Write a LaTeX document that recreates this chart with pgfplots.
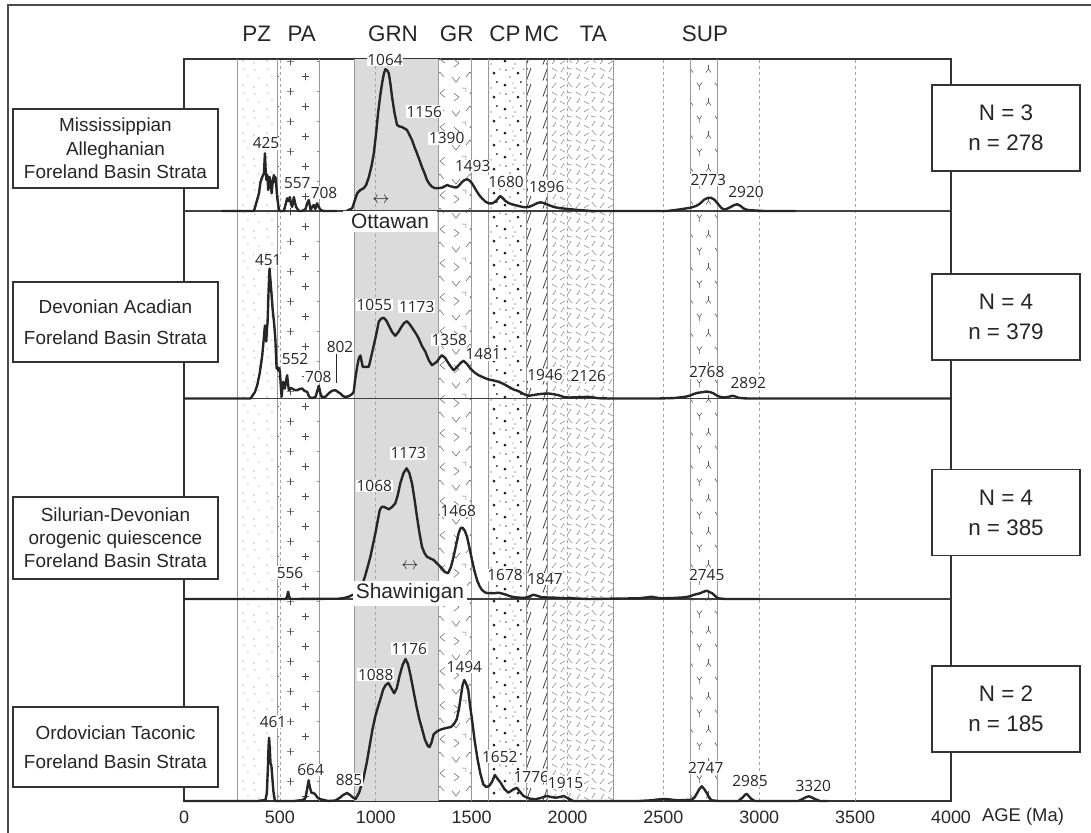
\documentclass[border=0pt]{standalone}
\usepackage{fontspec}
\setmainfont{Liberation Sans}
\newfontfamily\peakfont{Open Sans}
\usepackage{pgfplots}
\pgfplotsset{compat=1.18}
\usetikzlibrary{patterns}

\pgfdeclarepatternformonly{pzdots}{\pgfqpoint{0pt}{0pt}}{\pgfqpoint{24pt}{24pt}}{\pgfqpoint{24pt}{24pt}}{%
 \pgfpathcircle{\pgfqpoint{4pt}{5pt}}{0.6pt}
 \pgfpathcircle{\pgfqpoint{15pt}{3pt}}{0.6pt}
 \pgfpathcircle{\pgfqpoint{9pt}{14pt}}{0.6pt}
 \pgfpathcircle{\pgfqpoint{20pt}{12pt}}{0.6pt}
 \pgfpathcircle{\pgfqpoint{5pt}{21pt}}{0.6pt}
 \pgfpathcircle{\pgfqpoint{16pt}{20pt}}{0.6pt}
 \pgfusepath{fill}}
\pgfdeclarepatternformonly{plusses}{\pgfqpoint{0pt}{0pt}}{\pgfqpoint{30pt}{30pt}}{\pgfqpoint{30pt}{30pt}}{%
 \pgfsetlinewidth{0.7pt}
 \pgfpathmoveto{\pgfqpoint{4pt}{7.5pt}}\pgfpathlineto{\pgfqpoint{11pt}{7.5pt}}
 \pgfpathmoveto{\pgfqpoint{7.5pt}{4pt}}\pgfpathlineto{\pgfqpoint{7.5pt}{11pt}}
 \pgfpathmoveto{\pgfqpoint{19pt}{22.5pt}}\pgfpathlineto{\pgfqpoint{26pt}{22.5pt}}
 \pgfpathmoveto{\pgfqpoint{22.5pt}{19pt}}\pgfpathlineto{\pgfqpoint{22.5pt}{26pt}}
 \pgfusepath{stroke}}
\pgfdeclarepatternformonly{grchev}{\pgfqpoint{0pt}{0pt}}{\pgfqpoint{30pt}{34pt}}{\pgfqpoint{30pt}{34pt}}{%
 \pgfsetlinewidth{0.6pt}
 \pgfpathmoveto{\pgfqpoint{4pt}{9pt}}\pgfpathlineto{\pgfqpoint{8pt}{4pt}}\pgfpathlineto{\pgfqpoint{12pt}{9pt}}
 \pgfpathmoveto{\pgfqpoint{18pt}{9pt}}\pgfpathlineto{\pgfqpoint{22pt}{14pt}}\pgfpathlineto{\pgfqpoint{26pt}{9pt}}
 \pgfpathmoveto{\pgfqpoint{6pt}{27pt}}\pgfpathlineto{\pgfqpoint{11pt}{23pt}}\pgfpathlineto{\pgfqpoint{6pt}{19pt}}
 \pgfpathmoveto{\pgfqpoint{27pt}{31pt}}\pgfpathlineto{\pgfqpoint{22pt}{27pt}}\pgfpathlineto{\pgfqpoint{27pt}{23pt}}
 \pgfpathmoveto{\pgfqpoint{14pt}{32pt}}\pgfpathlineto{\pgfqpoint{18pt}{32pt}}\pgfpathlineto{\pgfqpoint{18pt}{28pt}}
 \pgfusepath{stroke}}
\pgfdeclarepatternformonly{cpdots}{\pgfqpoint{0pt}{0pt}}{\pgfqpoint{24pt}{24pt}}{\pgfqpoint{24pt}{24pt}}{%
 \pgfpathcircle{\pgfqpoint{3pt}{5pt}}{1.5pt}
 \pgfpathcircle{\pgfqpoint{13pt}{2pt}}{0.6pt}
 \pgfpathcircle{\pgfqpoint{19pt}{8pt}}{1.0pt}
 \pgfpathcircle{\pgfqpoint{8pt}{13pt}}{0.7pt}
 \pgfpathcircle{\pgfqpoint{16pt}{17pt}}{1.5pt}
 \pgfpathcircle{\pgfqpoint{4pt}{20pt}}{0.8pt}
 \pgfpathcircle{\pgfqpoint{22pt}{21pt}}{0.6pt}
 \pgfpathcircle{\pgfqpoint{11pt}{7pt}}{0.5pt}
 \pgfpathcircle{\pgfqpoint{11pt}{22pt}}{0.6pt}
 \pgfusepath{fill}}
\pgfdeclarepatternformonly{mcslash}{\pgfqpoint{0pt}{0pt}}{\pgfqpoint{20pt}{16pt}}{\pgfqpoint{20pt}{16pt}}{%
 \pgfsetlinewidth{0.8pt}
 \pgfpathmoveto{\pgfqpoint{5pt}{1.5pt}}\pgfpathlineto{\pgfqpoint{9.5pt}{14pt}}
 \pgfpathmoveto{\pgfqpoint{8.5pt}{1.5pt}}\pgfpathlineto{\pgfqpoint{13pt}{14pt}}
 \pgfusepath{stroke}}
\pgfdeclarepatternformonly{tadash}{\pgfqpoint{0pt}{0pt}}{\pgfqpoint{24pt}{24pt}}{\pgfqpoint{24pt}{24pt}}{%
 \pgfsetlinewidth{0.6pt}
 \pgfpathmoveto{\pgfqpoint{2pt}{2pt}}\pgfpathlineto{\pgfqpoint{6pt}{7pt}}
 \pgfpathmoveto{\pgfqpoint{10pt}{2pt}}\pgfpathlineto{\pgfqpoint{15pt}{5pt}}
 \pgfpathmoveto{\pgfqpoint{18pt}{8pt}}\pgfpathlineto{\pgfqpoint{22pt}{3pt}}
 \pgfpathmoveto{\pgfqpoint{3pt}{11pt}}\pgfpathlineto{\pgfqpoint{6pt}{16pt}}
 \pgfpathmoveto{\pgfqpoint{10pt}{13pt}}\pgfpathlineto{\pgfqpoint{15pt}{10pt}}
 \pgfpathmoveto{\pgfqpoint{18pt}{12pt}}\pgfpathlineto{\pgfqpoint{21pt}{17pt}}
 \pgfpathmoveto{\pgfqpoint{2pt}{22pt}}\pgfpathlineto{\pgfqpoint{7pt}{19pt}}
 \pgfpathmoveto{\pgfqpoint{11pt}{18pt}}\pgfpathlineto{\pgfqpoint{14pt}{23pt}}
 \pgfpathmoveto{\pgfqpoint{17pt}{22pt}}\pgfpathlineto{\pgfqpoint{22pt}{21pt}}
 \pgfusepath{stroke}}
\pgfdeclarepatternformonly{supy}{\pgfqpoint{0pt}{0pt}}{\pgfqpoint{17.7pt}{33pt}}{\pgfqpoint{17.7pt}{33pt}}{%
 \pgfsetlinewidth{0.6pt}
 \pgfpathmoveto{\pgfqpoint{3.5pt}{10pt}}\pgfpathlineto{\pgfqpoint{3.5pt}{6pt}}
 \pgfpathmoveto{\pgfqpoint{1pt}{2.5pt}}\pgfpathlineto{\pgfqpoint{3.5pt}{6pt}}\pgfpathlineto{\pgfqpoint{6pt}{2.5pt}}
 \pgfpathmoveto{\pgfqpoint{12.35pt}{18pt}}\pgfpathlineto{\pgfqpoint{12.35pt}{22pt}}
 \pgfpathmoveto{\pgfqpoint{9.85pt}{25.5pt}}\pgfpathlineto{\pgfqpoint{12.35pt}{22pt}}\pgfpathlineto{\pgfqpoint{14.85pt}{25.5pt}}
 \pgfusepath{stroke}}

\newcommand{\pk}[3]{\node[fill=white,inner sep=0.7bp,text=black!85,font=\peakfont\fontsize{15.5}{15.5}\selectfont] at (#1,#2) {#3};}

\begin{document}
\begin{tikzpicture}
\useasboundingbox (0,0) rectangle (1091bp,-833bp);
\begin{axis}[at={(184bp,-801bp)}, anchor=origin,
  width=767bp, height=742bp, scale only axis,
  xmin=0, xmax=4000, ymin=0, ymax=742,
  axis line style={draw=black!80, line width=1.2bp},
  xtick={0,500,1000,1500,2000,2500,3000,3500,4000},
  xticklabels={0,500,1000,1500,2000,2500,3000,3500,4000},
  ytick=\empty, major tick length=0pt,
  xticklabel style={font=\fontsize{18}{18}\selectfont, inner sep=0pt, anchor=north, yshift=-9.5bp, text=black!85},
  clip=false,
  curve/.style={black!85, line width=2.4bp, line join=round},
  base/.style={black!75, line width=1.2bp}]
% bands
\fill[black!14] (axis cs:889,0) rectangle (axis cs:1328,742);
\fill[pattern=pzdots, pattern color=black!55] (axis cs:276,0) rectangle (axis cs:486,742);
\fill[pattern=plusses, pattern color=black!70] (axis cs:486,0) rectangle (axis cs:707,742);
\fill[pattern=grchev, pattern color=black!55] (axis cs:1328,0) rectangle (axis cs:1497,742);
\fill[pattern=cpdots, pattern color=black!90] (axis cs:1585,0) rectangle (axis cs:1785,742);
\fill[pattern=mcslash, pattern color=black!75] (axis cs:1785,0) rectangle (axis cs:1893,742);
\fill[pattern=tadash, pattern color=black!45] (axis cs:1893,0) rectangle (axis cs:2240,742);
\fill[pattern=supy, pattern color=black!65] (axis cs:2640,0) rectangle (axis cs:2780,742);
% grid
\foreach \g in {500,1000,1500,2000,2500,3000,3500}{
  \edef\tmp{\noexpand\draw[black!35, line width=0.7bp, dash pattern=on 3bp off 3bp] (axis cs:\g,0) -- (axis cs:\g,742);}\tmp}
% band edges
\foreach \g in {276,486,707,889,1328,1497,1585,1785,1893,2240,2640,2780}{
  \edef\tmp{\noexpand\draw[black!40, line width=0.8bp] (axis cs:\g,0) -- (axis cs:\g,742);}\tmp}
% baselines
\addplot[base] coordinates {(0,590) (4000,590)};
\addplot[base] coordinates {(0,402.5) (4000,402.5)};
\addplot[base] coordinates {(0,202) (4000,202)};

% Panel 1
\addplot[curve] coordinates {(195,590) (365,590) (391,607.7) (399,619) (410,625) (417,627.7) (422,647.7) (426,630) (430,621) (435,626) (439,611) (446,624) (452,618) (457,607.7) (463,620) (469,626) (474,619) (477,624) (482,614) (486,604) (495,591) (503,590) (521,590) (538,602.7) (545,600) (552,604) (558,597) (564,594) (573,604) (579,598) (585,594) (599,590) (616,590) (634,592) (642,597.7) (651,601) (660,591) (668,594) (677,596) (685,592) (694,597.7) (703,594) (712,591) (729,590) (796,590)};
\addplot[curve] coordinates {(848,590) (877,592.7) (903,607.7) (920,611) (937,612.7) (950,616) (964,624) (978,635) (990,647.7) (1002,668) (1012,687.7) (1023,705) (1033,717.7) (1042,727) (1050,731.7) (1058,731) (1068,727.7) (1076,718) (1085,704) (1098,688) (1111,676) (1124,674.5) (1137,674) (1150,672.5) (1163,671) (1176,666) (1189,661) (1202,654) (1215,647.7) (1228,641) (1241,634) (1254,628) (1267,621) (1280,617) (1293,614.3) (1306,613) (1319,612.7) (1332,613) (1345,613.3) (1358,614.5) (1372,616) (1385,615) (1398,614.3) (1411,613.6) (1424,613.7) (1437,616) (1450,619) (1463,621) (1476,621.7) (1489,620.5) (1502,617.7) (1515,613.5) (1528,609.3) (1541,605.5) (1554,602.7) (1571,599.5) (1589,597.7) (1606,597.5) (1623,599.3) (1636,602) (1649,605) (1662,603) (1675,600.3) (1692,598) (1710,596.7) (1745,595) (1767,594) (1788,593.7) (1805,594.5) (1823,596) (1840,597.7) (1858,598.7) (1875,598) (1892,596.7) (1914,595) (1936,593.7) (1962,592.8) (1988,592.3) (2057,591) (2127,590) (2521,590) (2590,591.7) (2642,593.3) (2670,595) (2686,596.7) (2700,599) (2712,601.3) (2730,603) (2747,603.3) (2765,601.5) (2781,598) (2800,593.5) (2816,591.3) (2835,592.5) (2851,594) (2870,596) (2885,596.7) (2903,595) (2920,592.3) (2940,591) (2963,590.7) (3024,590) (3190,590)};

% Panel 2
\addplot[curve] coordinates {(0,402.5) (347,402.5) (370,409) (382,415.8) (395,428) (408,445.5) (415,460) (422,475.5) (425,465) (429,459.5) (432,470) (436,479.5) (441,510) (446,532.5) (452,518) (457,505.5) (463,490) (469,479.5) (474,468) (477,459.5) (480,445) (483,432.5) (487,434) (491,430.5) (496,433) (500,429.5) (505,415) (509,404.2) (513,412) (517,419.2) (521,414) (526,412.5) (532,420) (538,425.8) (542,418) (547,410.8) (555,413) (564,412.5) (577,411) (590,410.8) (603,412) (616,412.5) (629,410) (642,409.2) (651,405) (660,403.2) (673,403) (686,404.2) (695,410) (703,415.2) (710,409) (717,404.2) (738,404.2) (751,407) (764,409.2) (777,410.5) (790,410.8) (803,409) (816,407.5) (828,405) (839,404.2) (856,404.5) (868,405.8) (877,407) (885,409.2) (893,422) (903,434.2) (912,443) (920,445.5) (926,440) (932,434.2) (948,434.2) (964,434.2) (977,445) (990,455.8) (1003,467) (1016,479.5) (1029,482.5) (1042,483.2) (1055,480.5) (1068,475.5) (1085,469) (1102,465.2) (1118,469) (1134,474.2) (1148,478) (1163,479.8) (1180,476) (1198,470.8) (1211,467) (1224,462.5) (1241,455) (1259,449.2) (1276,441) (1293,435.8) (1306,437.5) (1319,439.2) (1332,443) (1345,445.8) (1362,443) (1380,437.5) (1393,434) (1406,430.8) (1419,433) (1432,435.8) (1445,438.5) (1458,440.2) (1476,437) (1493,432.5) (1515,428.5) (1536,425.8) (1562,423.5) (1589,421.5) (1615,420.5) (1641,419.2) (1667,417) (1693,414.2) (1719,411.5) (1745,409.8) (1771,407) (1797,405.2) (1823,406) (1849,406.8) (1875,407.3) (1901,407.5) (1927,406.8) (1953,405.8) (1980,404) (2005,403.5) (2030,403.6) (2057,403.8) (2083,404) (2109,404.2) (2135,403.5) (2161,402.8) (2214,402.5) (2474,402.5) (2560,403) (2613,404.2) (2640,405.5) (2656,406.8) (2675,408) (2691,408.5) (2710,409) (2726,409.5) (2745,408.8) (2760,407.8) (2778,405.5) (2795,404.2) (2808,403.7) (2821,403.5) (2840,404.2) (2861,405.2) (2876,404.5) (2891,403.2) (2920,402.7) (2943,402.5) (4000,402.5)};

% Panel 3
\addplot[curve] coordinates {(0,202) (530,202) (537,204) (543,209.3) (549,204) (557,202) (807,202.3) (835,203) (859,204.3) (890,207) (920,211) (933,218) (946,226) (959,235) (972,244.3) (985,256) (998,267.7) (1010,280) (1021,291) (1031,294) (1042,294.3) (1055,293) (1068,291.7) (1085,294) (1102,297.7) (1115,306) (1128,317.7) (1145,328) (1161,332.7) (1175,328) (1189,317.7) (1202,302) (1215,284.3) (1228,268) (1241,254.3) (1254,248) (1267,244.3) (1285,242.5) (1302,241) (1323,237) (1345,232.7) (1361,229) (1377,227.7) (1392,234) (1406,244.3) (1419,256) (1432,267.7) (1443,273) (1453,273.3) (1465,270) (1476,264.3) (1489,253) (1502,241) (1515,230) (1528,221) (1541,215) (1554,211) (1571,208.5) (1589,207.7) (1615,207.8) (1641,208.3) (1662,207.3) (1684,206) (1705,204.5) (1727,203.7) (1755,203.3) (1780,203.3) (1800,204.5) (1823,206.3) (1845,205) (1866,203.7) (1900,203.5) (1936,203.3) (1980,202.8) (2023,202.7) (2109,202) (2370,202.7) (2410,203.5) (2438,204.3) (2465,203.3) (2490,202.7) (2550,203) (2613,203.7) (2640,204.8) (2656,206) (2675,207) (2691,207.7) (2710,209.3) (2726,210.3) (2740,209) (2755,207.7) (2770,205) (2786,202.7) (2821,202) (3004,202)};

% Panel 4
\addplot[curve] coordinates {(0,0) (384,0) (425,1) (432,8) (437,30) (441,55) (444,63.3) (448,50) (451,38) (456,35) (460,25) (466,10) (474,0) (574,0) (620,1) (634,3.3) (642,12) (650,20.7) (656,14) (664,8.3) (675,8) (683,7) (698,3) (713,1.7) (753,0) (790,0.5) (813,3.3) (830,6) (850,8) (866,6) (883,3.3) (895,2) (913,8.3) (935,22) (953,38.3) (968,55) (983,71.7) (998,85) (1013,95) (1026,103) (1039,111.7) (1052,116) (1066,118) (1078,114) (1096,107.7) (1110,113) (1124,125) (1140,136) (1155,142) (1168,137) (1182,125) (1197,110) (1212,95) (1227,82) (1242,71.7) (1257,61) (1272,55) (1280,54) (1290,58) (1302,66.7) (1322,70) (1342,71.7) (1367,73) (1392,74) (1408,77) (1422,81.7) (1434,92) (1444,105) (1453,116) (1462,121) (1470,118) (1482,111.7) (1492,95) (1502,81.7) (1516,60) (1531,41.7) (1546,27) (1561,16.7) (1576,14) (1591,15) (1606,19) (1621,26) (1636,22) (1651,18.3) (1671,12) (1691,8.3) (1713,11) (1735,13.3) (1753,9) (1771,5) (1800,2.5) (1831,1.7) (1860,3) (1890,5) (1915,4) (1940,3.3) (1960,4) (1980,5) (2005,2.5) (2030,0) (2370,0) (2438,0.7) (2470,1.5) (2509,2) (2545,1.3) (2578,0.7) (2648,1.3) (2662,3.5) (2674,7.3) (2688,12) (2700,14.7) (2713,12) (2726,8) (2740,3) (2752,0.7) (2786,0) (2891,0) (2912,3.3) (2925,6) (2934,7.3) (2945,5) (2957,2.3) (2977,0) (3203,0) (3229,2.3) (3245,4) (3259,4.7) (3275,3.5) (3290,2) (3316,0) (3359,0)};
\end{axis}

\begin{scope}[x=1bp,y=-1bp]
% outer border
\draw[black!70, line width=1.2bp] (8,833) -- (8,5) -- (1091,5);
% top labels
\begin{scope}[every node/.style={anchor=base, font=\fontsize{22.5}{22.5}\selectfont, text=black!85}]
\node at (256.7,41.7) {PZ};
\node at (301.7,41.7) {PA};
\node at (393,41.7) {GRN};
\node at (456.7,41.7) {GR};
\node at (505,41.7) {CP};
\node at (541.7,41.7) {MC};
\node at (593.3,41.7) {TA};
\node at (705,41.7) {SUP};
\end{scope}
% axis title
\node[font=\fontsize{18.5}{18.5}\selectfont, text=black!85] at (1023,816.7) {AGE (Ma)};
% panel 1 labels
\pk{266}{143.3}{425}
\pk{297.3}{182.7}{557}
\pk{324}{192.7}{708}
\pk{385}{60}{1064}
\pk{424.3}{111.7}{1156}
\pk{446.7}{138.3}{1390}
\pk{472.7}{166}{1493}
\pk{506}{181.7}{1680}
\pk{546.7}{186.7}{1896}
\pk{708.3}{180}{2773}
\pk{746}{191.7}{2920}
\node[fill=white, inner xsep=8bp, inner ysep=3bp, text=black!85, font=\fontsize{21}{21}\selectfont] at (390,221.7) {Ottawan};
\node[font=\fontsize{18}{18}\selectfont, text=black!85] at (381,200) {$\leftrightarrow$};
% panel 2 labels
\pk{268.3}{260}{451}
\pk{295}{359}{552}
\pk{318.3}{376.7}{708}
\pk{340}{346.7}{802}
\draw[black!85, line width=0.8bp] (336.7,354.3) -- (336.7,383.3);
\pk{374.3}{305}{1055}
\pk{416.7}{306.7}{1173}
\pk{449.3}{340}{1358}
\pk{483.3}{354.3}{1481}
\pk{545}{375}{1946}
\pk{588.3}{376}{2126}
\pk{706.7}{372.3}{2768}
\pk{748.3}{382.7}{2892}
% panel 3 labels
\pk{290}{572.7}{556}
\pk{374.3}{486}{1068}
\pk{408.3}{453.3}{1173}
\pk{458.3}{511}{1468}
\pk{505}{575}{1678}
\pk{545}{579}{1847}
\pk{706.7}{575}{2745}
\node[fill=white, inner xsep=3bp, inner ysep=3bp, text=black!85, font=\fontsize{21}{21}\selectfont] at (410,593.3) {Shawinigan};
\node[font=\fontsize{18}{18}\selectfont, text=black!85] at (410,566.7) {$\leftrightarrow$};
% panel 4 labels
\pk{273}{721.7}{461}
\pk{310.6}{770}{664}
\pk{349}{779.5}{885}
\pk{375.7}{674.5}{1088}
\pk{409.4}{648.8}{1176}
\pk{464.4}{666.7}{1494}
\pk{499.8}{756.7}{1652}
\pk{531.3}{776.7}{1776}
\pk{565.6}{782.7}{1915}
\pk{705.7}{767.7}{2747}
\pk{750}{780.7}{2985}
\pk{813.3}{785.7}{3320}
% left boxes
\begin{scope}[every node/.style={draw=black!80, line width=1.2bp, fill=white, minimum width=205bp, align=center, text=black!85, inner sep=0pt}]
\node[minimum height=79bp, font=\fontsize{19}{23.8}\selectfont] at (115.5,148.5) {Mississippian\\Alleghanian\\Foreland Basin Strata};
\node[minimum height=80bp, font=\fontsize{19}{31}\selectfont] at (115.5,322) {Devonian Acadian\\Foreland Basin Strata};
\node[minimum height=82bp, font=\fontsize{19}{23.3}\selectfont] at (115.5,538) {Silurian-Devonian\\orogenic quiescence\\Foreland Basin Strata};
\node[minimum height=80bp, font=\fontsize{19}{29}\selectfont] at (115.5,747) {Ordovician Taconic\\Foreland Basin Strata};
\end{scope}
% right boxes
\begin{scope}[every node/.style={draw=black!80, line width=1.2bp, fill=white, minimum width=148bp, minimum height=86bp, align=center, text=black!85, inner sep=0pt, font=\fontsize{22.5}{30}\selectfont}]
\node at (1006,128) {N = 3\\n = 278};
\node at (1006,317) {N = 4\\n = 379};
\node at (1006,512.5) {N = 4\\n = 385};
\node at (1006,709) {N = 2\\n = 185};
\end{scope}
\end{scope}
\end{tikzpicture}
\end{document}
